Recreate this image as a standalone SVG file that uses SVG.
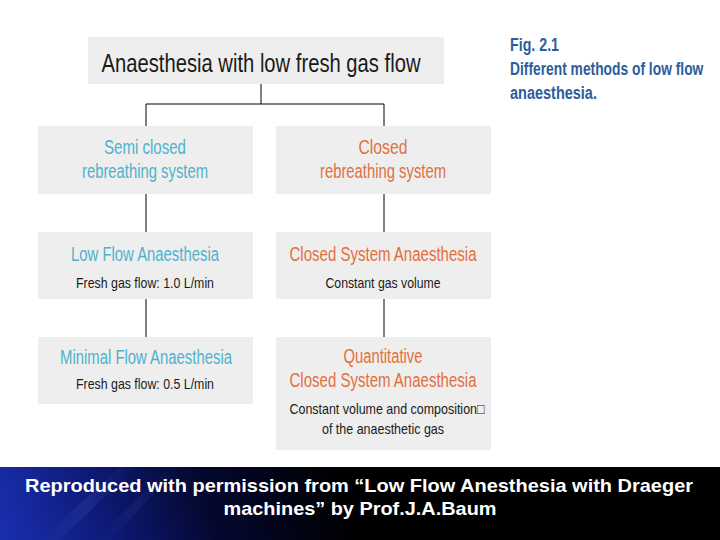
<svg xmlns="http://www.w3.org/2000/svg" width="720" height="540" viewBox="0 0 720 540">
<defs>
<linearGradient id="band" x1="0" y1="540" x2="330" y2="440" gradientUnits="userSpaceOnUse">
<stop offset="0" stop-color="#1a2fb0"/>
<stop offset="0.3" stop-color="#0e1a78"/>
<stop offset="0.6" stop-color="#040830"/>
<stop offset="1" stop-color="#000000"/>
</linearGradient>
<linearGradient id="streak" x1="0" y1="0" x2="1" y2="0">
<stop offset="0" stop-color="#4a6ad0" stop-opacity="0"/>
<stop offset="0.5" stop-color="#4a6ad0" stop-opacity="0.35"/>
<stop offset="1" stop-color="#4a6ad0" stop-opacity="0"/>
</linearGradient>
</defs>
<style>
.box{fill:#eeeeee}
.t{font-family:"Liberation Sans",Arial,sans-serif;text-anchor:middle}
.blue{fill:#4fb2cc;font-size:19.5px}
.org{fill:#e2703f;font-size:19.5px}
.sub{fill:#1a1a1a;font-size:15px}
.cap{font-family:"Liberation Sans",Arial,sans-serif;font-weight:bold;fill:#2d5d9c;font-size:17.5px}
.ln{stroke:#000;stroke-width:1;fill:none}
.foot{font-family:"Liberation Sans",Arial,sans-serif;font-weight:bold;fill:#ffffff;font-size:19px;text-anchor:middle}
</style>
<rect width="720" height="540" fill="#ffffff"/>

<g id="connectors">
<path class="ln" d="M261 84V104M146 104H384M146 104V126M384 104V126"/>
<path class="ln" d="M146 194V232M146 299V337M384 194V232M384 299V337"/>
</g>

<g id="root">
<rect class="box" x="88" y="37" width="356" height="47"/>
<text class="t" x="261" y="72" font-size="25" fill="#1a1a1a" textLength="319" lengthAdjust="spacingAndGlyphs">Anaesthesia with low fresh gas flow</text>
</g>

<g id="caption" transform="scale(0.79,1)">
<text class="cap" x="645.6" y="51" textLength="62" lengthAdjust="spacingAndGlyphs">Fig. 2.1</text>
<text class="cap" x="645.6" y="75">Different methods of low flow</text>
<text class="cap" x="645.6" y="99" textLength="110" lengthAdjust="spacingAndGlyphs">anaesthesia.</text>
</g>

<g id="semi">
<rect class="box" x="38" y="126" width="215" height="68"/>
<text class="t blue" x="145" y="154" textLength="82" lengthAdjust="spacingAndGlyphs">Semi closed</text>
<text class="t blue" x="145" y="178" textLength="126" lengthAdjust="spacingAndGlyphs">rebreathing system</text>
</g>

<g id="closed">
<rect class="box" x="276" y="126" width="215" height="68"/>
<text class="t org" x="383" y="154" textLength="49" lengthAdjust="spacingAndGlyphs">Closed</text>
<text class="t org" x="383" y="178" textLength="126" lengthAdjust="spacingAndGlyphs">rebreathing system</text>
</g>

<g id="lowflow">
<rect class="box" x="38" y="232" width="215" height="67"/>
<text class="t blue" x="145" y="261" textLength="148" lengthAdjust="spacingAndGlyphs">Low Flow Anaesthesia</text>
<text class="t sub" x="145" y="288" textLength="138" lengthAdjust="spacingAndGlyphs">Fresh gas flow: 1.0 L/min</text>
</g>

<g id="closedsys">
<rect class="box" x="276" y="232" width="215" height="67"/>
<text class="t org" x="383" y="261" textLength="187" lengthAdjust="spacingAndGlyphs">Closed System Anaesthesia</text>
<text class="t sub" x="383" y="288" textLength="115" lengthAdjust="spacingAndGlyphs">Constant gas volume</text>
</g>

<g id="minimal">
<rect class="box" x="38" y="337" width="215" height="67"/>
<text class="t blue" x="146" y="364" textLength="172" lengthAdjust="spacingAndGlyphs">Minimal Flow Anaesthesia</text>
<text class="t sub" x="145" y="389" textLength="138" lengthAdjust="spacingAndGlyphs">Fresh gas flow: 0.5 L/min</text>
</g>

<g id="quant">
<rect class="box" x="276" y="337" width="215" height="113"/>
<text class="t org" x="383" y="363" textLength="79" lengthAdjust="spacingAndGlyphs">Quantitative</text>
<text class="t org" x="383" y="387" textLength="187" lengthAdjust="spacingAndGlyphs">Closed System Anaesthesia</text>
<text class="t sub" x="387" y="414" textLength="195" lengthAdjust="spacingAndGlyphs">Constant volume and composition□</text>
<text class="t sub" x="383" y="434" textLength="122" lengthAdjust="spacingAndGlyphs">of the anaesthetic gas</text>
</g>

<g id="footer">
<rect x="0" y="467" width="720" height="73" fill="url(#band)"/>
<polygon points="120,467 135,467 60,540 40,540" fill="url(#streak)" opacity="0.5"/>
<polygon points="170,467 180,467 110,540 95,540" fill="url(#streak)" opacity="0.3"/>
<text class="foot" x="359" y="492" textLength="668" lengthAdjust="spacingAndGlyphs">Reproduced with permission from “Low Flow Anesthesia with Draeger</text>
<text class="foot" x="360" y="515" textLength="273" lengthAdjust="spacingAndGlyphs">machines” by Prof.J.A.Baum</text>
</g>
</svg>
